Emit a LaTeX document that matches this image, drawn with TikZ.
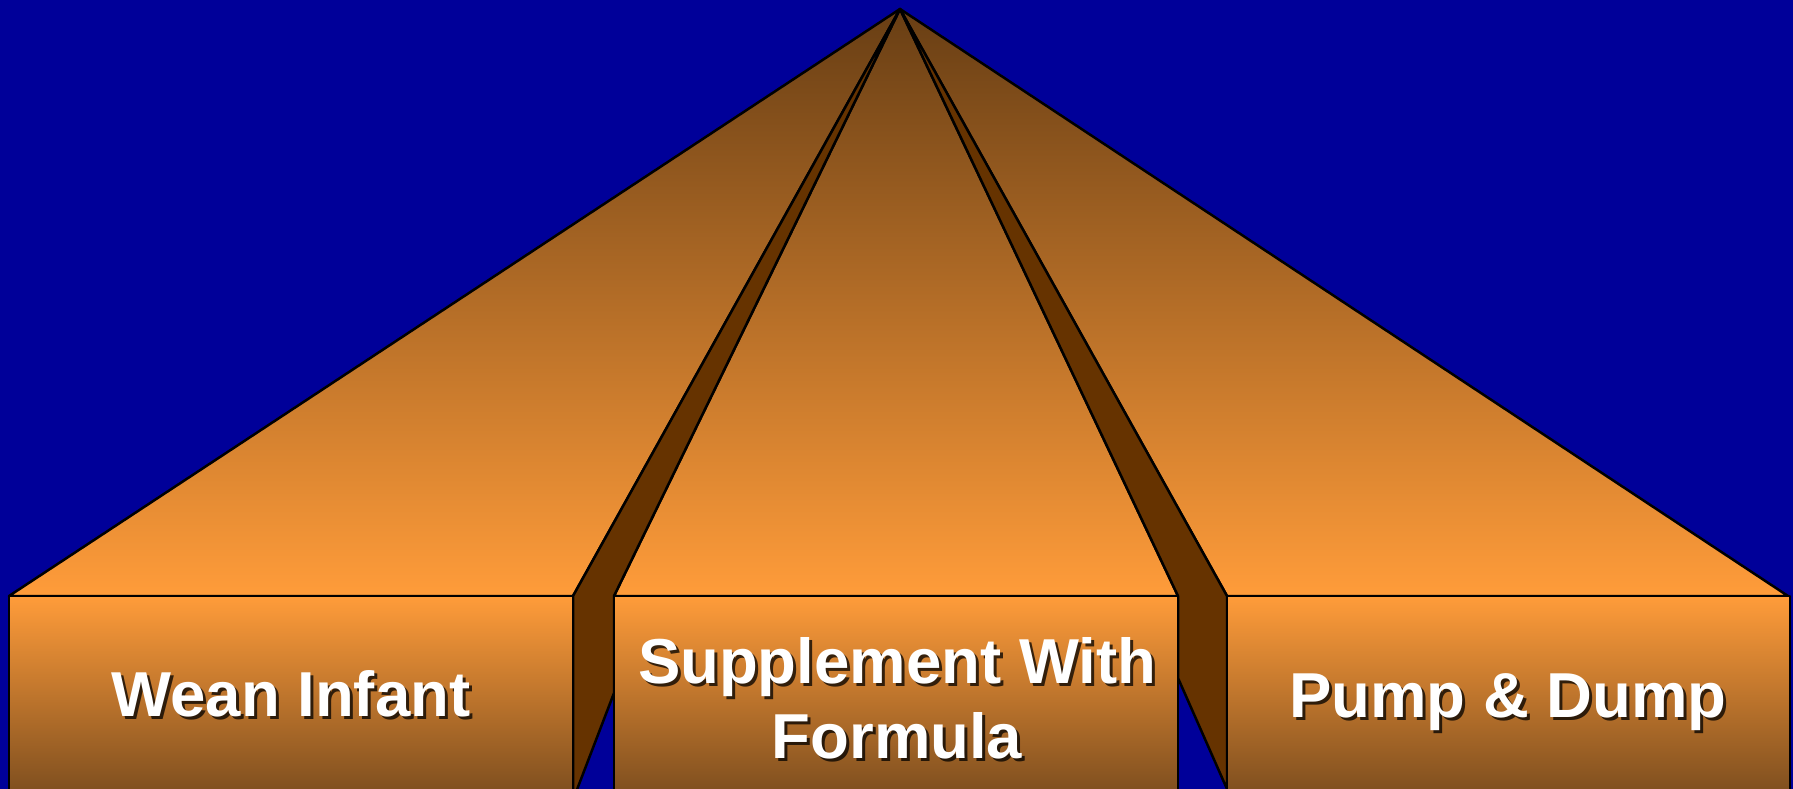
\documentclass[tikz,border=0pt]{standalone}
\usepackage{fontspec}
\setmainfont{Liberation Sans}
\definecolor{bgblue}{RGB}{0,0,153}
\definecolor{stripbrown}{RGB}{102,51,0}
\definecolor{lightorange}{RGB}{255,156,58}
\definecolor{midorange}{RGB}{215,128,46}
\definecolor{topbrown}{RGB}{104,62,20}
\definecolor{boxbottom}{RGB}{122,76,30}
\tikzset{
  face/.style={draw=black,line width=2.5pt,line join=round},
  tri/.style={face,top color=topbrown,middle color=midorange,bottom color=lightorange},
  sidestrip/.style={face,fill=stripbrown},
  boxface/.style={face,top color=lightorange,bottom color=boxbottom},
  lbl/.style={font=\bfseries\fontsize{63.5}{75}\selectfont,text=white,align=center,inner sep=0pt,anchor=base},
  lblshadow/.style={lbl,text=black,opacity=0.75}
}
\begin{document}
\begin{tikzpicture}[x=1pt,y=-1pt]
\useasboundingbox (0,0) rectangle (1793,789);
\clip (0,0) rectangle (1793,789);
\fill[bgblue] (0,0) rectangle (1793,789);
\coordinate (A) at (900,9);
% triangles
\shade[tri] (A) -- (9,596) -- (573,596) -- cycle;
\shade[tri] (A) -- (1227,596) -- (1788,596) -- cycle;
\shade[tri] (A) -- (614,596) -- (1178,596) -- cycle;
% side strips
\draw[sidestrip] (A) -- (573,596) -- (573,800) -- (614,693) -- (614,596) -- cycle;
\draw[sidestrip] (A) -- (1178,596) -- (1178,678) -- (1227,789) -- (1227,596) -- cycle;
% boxes
\shade[boxface] (9,596) rectangle (573,800);
\shade[boxface] (614,596) rectangle (1178,800);
\shade[boxface] (1227,596) rectangle (1790,800);
% labels
\node[lblshadow] (s1) at (294,719) {Wean Infant};
\node[lbl] (t1) at (291,716) {Wean Infant};
\node[lblshadow] (s2a) at (900,686) {Supplement With};
\node[lbl] (t2a) at (897,683) {Supplement With};
\node[lblshadow] (s2b) at (900,761) {Formula};
\node[lbl] (t2b) at (897,758) {Formula};
\node[lblshadow] (s3) at (1511,720) {Pump \& Dump};
\node[lbl] (t3) at (1508,717) {Pump \& Dump};
\end{tikzpicture}
\end{document}
